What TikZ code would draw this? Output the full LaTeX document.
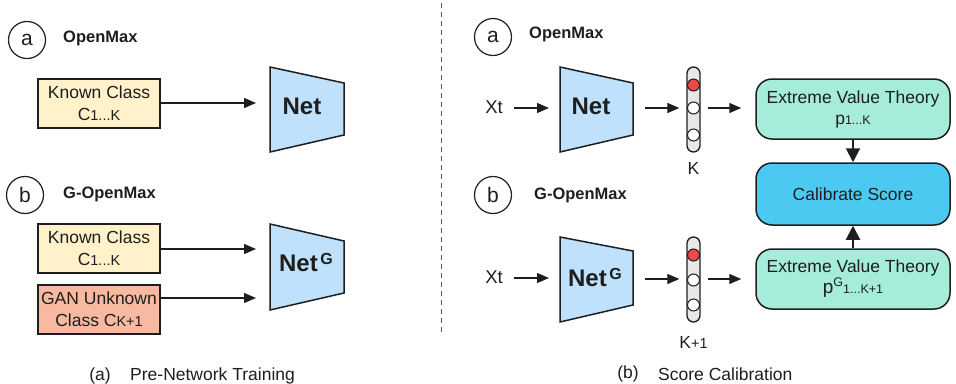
\documentclass[tikz,border=0pt]{standalone}
\usepackage{fontspec}
\setmainfont{Liberation Sans}
\usetikzlibrary{arrows.meta}
\definecolor{cyellow}{HTML}{FFF1C9}
\definecolor{csalmon}{HTML}{F7B9A0}
\definecolor{cnet}{HTML}{C0E1FB}
\definecolor{cmint}{HTML}{A6ECDB}
\definecolor{ccal}{HTML}{4CC9F0}
\definecolor{cred}{HTML}{F04848}
\definecolor{cline}{HTML}{1E1E1E}
\newcommand\smtxt[1]{{\fontsize{12.5}{12}\selectfont #1}}
\newcommand\mdtxt[1]{{\fontsize{14.5}{12}\selectfont #1}}
\begin{document}
\begin{tikzpicture}[x=1pt,y=-1pt,
  every node/.style={text=cline},
  txt/.style={font=\fontsize{17.5}{22}\selectfont, inner sep=0},
  lettercirc/.style={draw=cline, circle, line width=1.2pt, minimum size=37pt, inner sep=0, font=\fontsize{21}{21}\selectfont},
  ttl/.style={anchor=west, inner sep=0, font=\fontsize{16.5}{20}\selectfont\bfseries},
  classbox/.style={draw=cline, line width=1.6pt, minimum width=122pt, minimum height=49pt, align=center, inner sep=0, font=\fontsize{17.5}{22}\selectfont},
  arr/.style={draw=cline, -{Triangle[length=12pt,width=10pt]}, line width=1.1pt},
  bigarr/.style={draw=cline, -{Triangle[length=14pt,width=14pt]}, line width=2pt},
  netshape/.style={draw=cline, fill=cnet, line width=1.5pt, line join=miter},
  nettxt/.style={inner sep=0, font=\fontsize{24}{24}\selectfont\bfseries},
  vecbox/.style={draw=cline, fill=black!9, rounded corners=6.5pt, minimum width=13pt, minimum height=85pt, line width=1.3pt, inner sep=0},
  dotc/.style={draw=cline, circle, fill=white, minimum size=12pt, inner sep=0, line width=1pt},
  evtbox/.style={draw=cline, rounded corners=16pt, minimum width=194pt, minimum height=60pt, fill=cmint, line width=1.5pt, align=center, inner sep=0, font=\fontsize{17.5}{21}\selectfont},
  dashline/.style={draw=black!65, line width=1pt, dash pattern=on 5pt off 4pt}
]
\useasboundingbox (0,0) rectangle (956,383);

% ---------------- left panel ----------------
\node[lettercirc] (la) at (27,40) {a};
\node[ttl] (lta) at (63,38) {OpenMax};
\node[classbox, fill=cyellow] (known1) at (99,103.5) {Known Class\\C\mdtxt{1...K}};
\draw[netshape] (270,67) -- (344,83) -- (344,135) -- (270,152) -- cycle;
\node[nettxt] (net1) at (302,106) {Net};
\coordinate (n1in) at (256,103);
\draw[arr] (known1.east |- n1in) -- (n1in);

\node[lettercirc] (lb) at (25,195) {b};
\node[ttl] (ltb) at (63,194) {G-OpenMax};
\node[classbox, fill=cyellow] (known2) at (99,248.5) {Known Class\\C\mdtxt{1...K}};
\node[classbox, fill=csalmon] (gan) at (99,309.5) {GAN Unknown\\Class C\mdtxt{K+1}};
\draw[netshape] (270,224) -- (344,241) -- (344,293) -- (270,310) -- cycle;
\node[nettxt] (net2) at (306,263) {Net\raisebox{7pt}{\fontsize{16}{16}\selectfont\,G}};
\coordinate (n2ina) at (256,249);
\coordinate (n2inb) at (256,298);
\draw[arr] (known2.east |- n2ina) -- (n2ina);
\draw[arr] (gan.east |- n2inb) -- (n2inb);

\node[txt] (capa) at (100,376) {(a)};
\node[txt, anchor=west] (capat) at (130,376) {Pre-Network Training};

% separator
\draw[dashline] (441,3) -- (441,333);

% ---------------- right panel ----------------
\node[lettercirc] (ra) at (493,37) {a};
\node[ttl] (rta) at (529,34) {OpenMax};
\node[txt, font=\fontsize{18.5}{18}\selectfont] (xt1) at (494,107) {Xt};
\coordinate (x1s) at (514,108);
\coordinate (x1e) at (549,108);
\draw[arr] (x1s) -- (x1e);
\draw[netshape] (560,67) -- (633,83) -- (633,135) -- (560,152) -- cycle;
\node[nettxt] (net3) at (591,106) {Net};
\coordinate (n3out) at (645,108);
\node[vecbox] (vec1) at (693.5,109.5) {};
\node[dotc, fill=cred] (d1a) at (693.5,85) {};
\node[dotc] (d1b) at (693.5,108) {};
\node[dotc] (d1c) at (693.5,135) {};
\node[txt] (k1) at (693.5,168) {K};
\draw[arr, shorten >=7pt] (n3out) -- (vec1.west |- n3out);
\node[evtbox] (evt1) at (853,109) {Extreme Value Theory\\p\smtxt{1...K}};
\draw[arr, shorten <=7pt, shorten >=14pt] (vec1.east |- n3out) -- (evt1.west |- n3out);

\node[evtbox, fill=ccal, minimum height=62pt] (cal) at (853,194) {Calibrate Score};
\draw[bigarr] (evt1.south) -- (cal.north);

\node[lettercirc] (rb) at (493,195) {b};
\node[ttl] (rtb) at (534,195) {G-OpenMax};
\node[txt, font=\fontsize{18.5}{18}\selectfont] (xt2) at (494,277) {Xt};
\coordinate (x2s) at (514,278);
\coordinate (x2e) at (549,278);
\draw[arr] (x2s) -- (x2e);
\draw[netshape] (560,237) -- (633,251) -- (633,305) -- (560,322) -- cycle;
\node[nettxt] (net4) at (595,278) {Net\raisebox{7pt}{\fontsize{16}{16}\selectfont\,G}};
\coordinate (n4out) at (645,279);
\node[vecbox] (vec2) at (693.5,279.5) {};
\node[dotc, fill=cred] (d2a) at (693.5,255) {};
\node[dotc] (d2b) at (693.5,280) {};
\node[dotc] (d2c) at (693.5,305) {};
\node[txt] (k2) at (693.5,342) {K\mdtxt{+1}};
\draw[arr, shorten >=7pt] (n4out) -- (vec2.west |- n4out);
\node[evtbox] (evt2) at (853,279) {Extreme Value Theory\\\fontsize{19}{19}\selectfont p\raisebox{7pt}{\smtxt{G}}\smtxt{1...K+1}};
\draw[arr, shorten <=7pt, shorten >=14pt] (vec2.east |- n4out) -- (evt2.west |- n4out);
\draw[bigarr] (evt2.north) -- (cal.south);

\node[txt] (capb) at (628,374) {(b)};
\node[txt, anchor=west] (capbt) at (658,374) {Score Calibration};
\end{tikzpicture}
\end{document}
